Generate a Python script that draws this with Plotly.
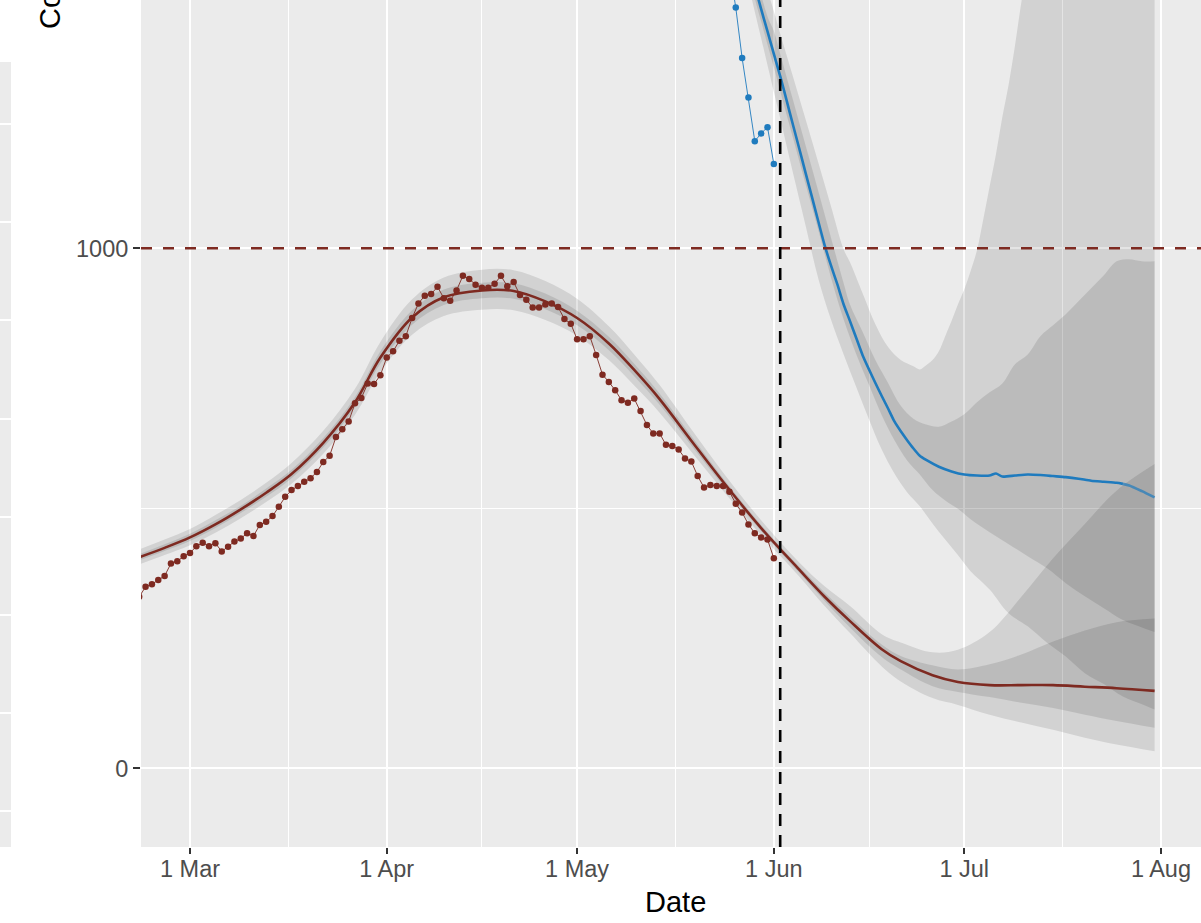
import plotly.graph_objects as go
import pandas as pd

W, H = 1201, 923

# ---------------- data ----------------
red_obs_start = "2020-02-22"
red_obs = [330, 349, 354, 362, 370, 394, 398, 408,
           414, 427, 434, 427, 433, 417, 426, 436, 442, 452, 447, 468, 474, 485, 503, 522,
           535, 543, 551, 558, 570, 589, 601, 637, 652, 667, 702, 712, 740, 739, 756,
           790, 802, 822, 831, 866, 894, 909, 912, 926, 904, 899, 919, 947, 941, 930,
           924, 924, 932, 947, 927, 935, 910, 901, 886, 886, 892, 894, 887, 864, 855,
           825, 825, 831, 795, 757, 743, 727, 708, 703, 711, 687, 660, 644, 644, 622,
           620, 613, 596, 590, 562, 540, 545, 543, 543, 532, 509, 492, 469, 452, 444, 440,
           404]

blue_obs_dates = ["2020-05-25", "2020-05-26", "2020-05-27", "2020-05-28",
                  "2020-05-29", "2020-05-30", "2020-05-31", "2020-06-01"]
blue_obs = [1540, 1463, 1366, 1290, 1206, 1221, 1233, 1162]

red_band_dates = ["2020-02-22", "2020-02-26", "2020-03-01", "2020-03-05", "2020-03-09",
                  "2020-03-13", "2020-03-17", "2020-03-22", "2020-03-27", "2020-03-31",
                  "2020-04-05", "2020-04-10", "2020-04-16", "2020-04-21", "2020-04-26",
                  "2020-05-01", "2020-05-06", "2020-05-10", "2020-05-14", "2020-05-19",
                  "2020-05-24", "2020-05-30", "2020-06-05", "2020-06-09", "2020-06-13",
                  "2020-06-18", "2020-06-21", "2020-06-26", "2020-06-30", "2020-07-05",
                  "2020-07-10", "2020-07-15", "2020-07-20", "2020-07-25", "2020-07-31"]
red_line = [406, 424, 444, 469, 498, 530, 566, 626, 704, 790, 867, 906, 919, 918, 898,
            866, 817, 766, 710, 630, 551, 462, 382, 330, 283, 229, 206, 179, 166, 160,
            160, 160, 157, 154, 149]
red_u90 = [421, 440, 460, 487, 516, 549, 587, 649, 730, 820, 902, 944, 959, 958, 937,
           903, 850, 796, 737, 652, 569, 477, 396, 350, 312, 258, 242, 223, 228, 262,
           330, 404, 470, 534, 585]
red_u50 = [412, 431, 451, 477, 505, 538, 574, 635, 714, 802, 881, 921, 934, 933, 913,
           880, 830, 778, 721, 639, 558, 468, 388, 338, 292, 238, 216, 198, 190, 200,
           219, 244, 265, 281, 288]
red_l50 = [400, 418, 437, 462, 491, 522, 558, 617, 694, 778, 853, 891, 904, 903, 883,
           852, 804, 754, 699, 621, 544, 456, 376, 322, 271, 214, 190, 158, 147, 137,
           126, 116, 103, 91, 78]
red_l90 = [392, 410, 429, 453, 481, 512, 547, 605, 680, 762, 834, 870, 882, 881, 862,
           832, 785, 736, 684, 609, 534, 448, 369, 312, 260, 196, 167, 135, 122, 103,
           88, 74, 59, 46, 33]

blue_line_dates = ["2020-05-27", "2020-05-28", "2020-05-29", "2020-05-30", "2020-05-31",
                   "2020-06-01", "2020-06-02", "2020-06-03", "2020-06-04", "2020-06-05",
                   "2020-06-06", "2020-06-07", "2020-06-08", "2020-06-09", "2020-06-10",
                   "2020-06-11", "2020-06-12", "2020-06-13", "2020-06-14", "2020-06-15",
                   "2020-06-16", "2020-06-17", "2020-06-18", "2020-06-19", "2020-06-20",
                   "2020-06-21", "2020-06-22", "2020-06-23", "2020-06-24", "2020-06-25",
                   "2020-06-27", "2020-06-29", "2020-07-01", "2020-07-03", "2020-07-05",
                   "2020-07-06", "2020-07-07", "2020-07-09", "2020-07-11", "2020-07-13",
                   "2020-07-15", "2020-07-17", "2020-07-19", "2020-07-21", "2020-07-23",
                   "2020-07-25", "2020-07-26"]
blue_line = [1585, 1546, 1504, 1460, 1417, 1374, 1331, 1285, 1238, 1192, 1145, 1099, 1052,
             1006, 967, 931, 892, 860, 827, 794, 767, 741, 716, 692, 667, 648, 631, 615,
             601, 593, 580, 571, 565, 563, 563, 567, 561, 563, 565, 564, 562, 560, 557,
             553, 551, 549, 547]
blue_tail_dates = ["2020-07-26", "2020-07-27", "2020-07-29", "2020-07-31"]
blue_tail = [547, 544, 533, 521]

blue_u90_dates = ["2020-05-27", "2020-05-29", "2020-05-31", "2020-06-01", "2020-06-02",
                  "2020-06-04", "2020-06-06", "2020-06-08", "2020-06-10", "2020-06-12",
                  "2020-06-13", "2020-06-15", "2020-06-17", "2020-06-19", "2020-06-21",
                  "2020-06-23", "2020-06-24", "2020-06-25", "2020-06-26", "2020-06-27",
                  "2020-06-28", "2020-06-29", "2020-06-30", "2020-07-01", "2020-07-02",
                  "2020-07-03", "2020-07-04", "2020-07-05", "2020-07-06", "2020-07-07",
                  "2020-07-08", "2020-07-09", "2020-07-10", "2020-07-11", "2020-07-13",
                  "2020-07-16", "2020-07-20", "2020-07-25", "2020-07-31"]
blue_u90 = [1662, 1580, 1496, 1456, 1413, 1331, 1248, 1165, 1081, 998, 973, 913, 854, 810,
            785, 773, 767, 775, 785, 802, 831, 860, 892, 921, 956, 996, 1056, 1119, 1181,
            1252, 1315, 1390, 1473, 1546, 1690, 1880, 2150, 2450, 2800]

blue_u50_dates = ["2020-05-27", "2020-05-29", "2020-05-31", "2020-06-01", "2020-06-02",
                  "2020-06-04", "2020-06-06", "2020-06-08", "2020-06-10", "2020-06-12",
                  "2020-06-13", "2020-06-15", "2020-06-17", "2020-06-19", "2020-06-21",
                  "2020-06-23", "2020-06-25", "2020-06-27", "2020-06-29", "2020-07-01",
                  "2020-07-03", "2020-07-05", "2020-07-07", "2020-07-09", "2020-07-11",
                  "2020-07-13", "2020-07-15", "2020-07-17", "2020-07-19", "2020-07-21",
                  "2020-07-23", "2020-07-25", "2020-07-27", "2020-07-29", "2020-07-31"]
blue_u50 = [1639, 1535, 1446, 1418, 1374, 1286, 1198, 1110, 1021, 933, 892, 839, 785, 741,
            697, 672, 661, 657, 667, 681, 704, 723, 740, 777, 796, 831, 852, 873, 898, 923,
            948, 975, 979, 975, 975]

blue_l50_dates = ["2020-05-27", "2020-05-29", "2020-05-30", "2020-06-01", "2020-06-02",
                  "2020-06-04", "2020-06-06", "2020-06-08", "2020-06-10", "2020-06-12",
                  "2020-06-14", "2020-06-16", "2020-06-18", "2020-06-20", "2020-06-22",
                  "2020-06-24", "2020-06-26", "2020-06-28", "2020-06-30", "2020-07-02",
                  "2020-07-05", "2020-07-08", "2020-07-11", "2020-07-14", "2020-07-17",
                  "2020-07-20", "2020-07-23", "2020-07-26", "2020-07-29", "2020-07-31"]
blue_l50 = [1570, 1480, 1436, 1348, 1302, 1213, 1123, 1035, 944, 863, 796, 737, 679, 631,
            592, 565, 535, 515, 499, 479, 454, 431, 408, 385, 356, 331, 308, 285, 271, 262]

blue_l90_dates = blue_l50_dates
blue_l90 = [1558, 1455, 1404, 1301, 1250, 1146, 1044, 942, 863, 796, 733, 671, 613, 567,
            531, 504, 471, 440, 410, 379, 344, 298, 273, 242, 215, 183, 162, 138, 123, 113]

threshold = 1000
forecast_date = "2020-06-02"

x_tick_dates = ["2020-03-01", "2020-04-01", "2020-05-01", "2020-06-01", "2020-07-01", "2020-08-01"]
x_tick_labels = ["1 Mar", "1 Apr", "1 May", "1 Jun", "1 Jul", "1 Aug"]
y_tick_vals = [0, 1000]
y_tick_labels = ["0", "1000"]
y_minor_vals = [-500, 500, 1500]

# ---------------- styling ----------------
RED = "#7E2A21"
BLUE = "#1F7BBE"
BAND = "rgba(0,0,0,0.105)"
FONT = "Liberation Sans, Arial, Helvetica, sans-serif"
TICK_FONT = dict(size=23.5, color="#4D4D4D", family=FONT)

red_obs_dates = pd.date_range(red_obs_start, periods=len(red_obs), freq="D")
tick_ts = pd.to_datetime(x_tick_dates)
x_minor = [tick_ts[i] + (tick_ts[i + 1] - tick_ts[i]) / 2 for i in range(len(tick_ts) - 1)]

fig = go.Figure()

# neighbouring (cropped) panel strip on the far left
fig.add_trace(go.Scatter(x=[], y=[], xaxis="x2", yaxis="y2", showlegend=False))


def band(xl, yl, xu, yu):
    fig.add_trace(go.Scatter(x=xl, y=yl, mode="lines", line=dict(width=0, shape="spline", smoothing=1.0),
                             hoverinfo="skip", showlegend=False))
    fig.add_trace(go.Scatter(x=xu, y=yu, mode="lines", line=dict(width=0, shape="spline", smoothing=1.0),
                             fill="tonexty", fillcolor=BAND, hoverinfo="skip", showlegend=False))


band(red_band_dates, red_l90, red_band_dates, red_u90)
band(red_band_dates, red_l50, red_band_dates, red_u50)
band(blue_l90_dates, blue_l90, blue_u90_dates, blue_u90)
band(blue_l50_dates, blue_l50, blue_u50_dates, blue_u50)

fig.add_trace(go.Scatter(x=red_band_dates, y=red_line, mode="lines",
                         line=dict(color=RED, width=2.6, shape="spline", smoothing=1.0), showlegend=False))
fig.add_trace(go.Scatter(x=blue_line_dates, y=blue_line, mode="lines",
                         line=dict(color=BLUE, width=2.6, shape="spline", smoothing=0.6), showlegend=False))
fig.add_trace(go.Scatter(x=blue_tail_dates, y=blue_tail, mode="lines", opacity=0.7,
                         line=dict(color=BLUE, width=2.6, shape="spline", smoothing=0.6), showlegend=False))

fig.add_trace(go.Scatter(x=red_obs_dates, y=red_obs, mode="lines+markers",
                         line=dict(color=RED, width=0.9), marker=dict(color=RED, size=6.5),
                         showlegend=False))
fig.add_trace(go.Scatter(x=blue_obs_dates, y=blue_obs, mode="lines+markers",
                         line=dict(color=BLUE, width=0.9), marker=dict(color=BLUE, size=6.5),
                         showlegend=False))

fig.add_hline(y=threshold, line=dict(color=RED, width=2.6, dash="11px,11px"), layer="above")
fig.add_vline(x=forecast_date, line=dict(color="black", width=2.6, dash="12px,9px"), layer="above")

ydom = [(H - 847) / H, 1]
fig.update_layout(
    width=W, height=H,
    margin=dict(l=0, r=0, t=0, b=0, pad=0, autoexpand=False),
    paper_bgcolor="white", plot_bgcolor="#EBEBEB",
    font=dict(family=FONT, color="#4D4D4D", size=23),
    showlegend=False,
    xaxis=dict(
        domain=[141 / W, 1], type="date",
        range=["2020-02-22 06:42", "2020-08-07 07:26"],
        tickmode="array", tickvals=x_tick_dates, ticktext=x_tick_labels,
        ticks="outside", ticklen=6, tickwidth=2, tickcolor="#333333",
        tickfont=TICK_FONT, ticklabelstandoff=-5,
        showgrid=True, gridcolor="white", gridwidth=2.2, zeroline=False, showline=False,
        minor=dict(tickmode="array", tickvals=x_minor, showgrid=True, gridcolor="white",
                   gridwidth=1.1, ticks=""),
        anchor="y", automargin=False,
    ),
    yaxis=dict(
        domain=ydom, range=[-151.3, 1477.5],
        tickmode="array", tickvals=y_tick_vals, ticktext=y_tick_labels,
        ticks="outside", ticklen=7, tickwidth=2, tickcolor="#333333",
        tickfont=TICK_FONT,
        showgrid=True, gridcolor="white", gridwidth=2.2, zeroline=False, showline=False,
        minor=dict(tickmode="array", tickvals=y_minor_vals, showgrid=True, gridcolor="white",
                   gridwidth=1.1, ticks=""),
        anchor="x", automargin=False,
    ),
    xaxis2=dict(domain=[0, 11 / W], range=[0, 1], showgrid=False, showticklabels=False,
                ticks="", zeroline=False, showline=False, anchor="y2", fixedrange=True),
    yaxis2=dict(domain=[(H - 847) / H, (H - 62) / H], range=[-0.367, 7.635],
                tickmode="linear", tick0=0, dtick=1, showgrid=True, gridcolor="white",
                gridwidth=2, showticklabels=False, ticks="", zeroline=False, showline=False,
                anchor="x2", fixedrange=True),
    annotations=[
        dict(text="Count", textangle=-90, xref="paper", yref="paper",
             x=50.5 / W, y=1 - 31 / H, xanchor="center", yanchor="bottom",
             showarrow=False, font=dict(size=29, color="black", family=FONT)),
        dict(text="Date", xref="paper", yref="paper", x=675.5 / W, y=1 - 901.5 / H,
             xanchor="center", yanchor="middle", showarrow=False,
             font=dict(size=29, color="black", family=FONT)),
    ],
)

fig.write_html(
    "out.html",
    config={"displayModeBar": False},
    post_script="document.body.style.margin='0';document.body.style.padding='0';"
                "document.body.style.overflow='hidden';",
)
